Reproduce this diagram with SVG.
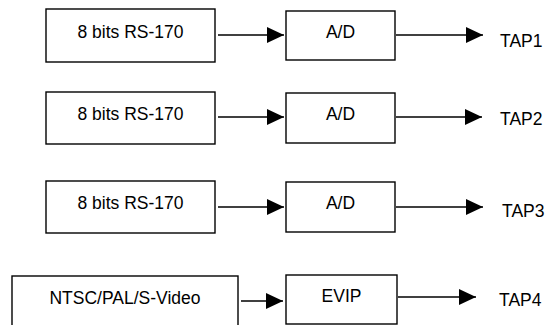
<svg xmlns="http://www.w3.org/2000/svg" width="547" height="325" viewBox="0 0 547 325">
<defs>
<style>
.box{fill:#fff;stroke:#000;stroke-width:1.4}
.lbl{font-family:"Liberation Sans",Arial,sans-serif;font-size:17.5px;fill:#000;text-anchor:middle}
.tap{font-family:"Liberation Sans",Arial,sans-serif;font-size:17.5px;fill:#000}
.con{stroke:#000;stroke-width:1.4;fill:none}
</style>
<marker id="ah" markerWidth="17" markerHeight="16" refX="17" refY="8" orient="auto" markerUnits="userSpaceOnUse">
<path d="M0,0 L17,8 L0,16 Z" fill="#000"/>
</marker>
</defs>
<rect width="547" height="325" fill="#fff"/>
<g id="src1"><rect class="box" x="46" y="9" width="169" height="53"/><text class="lbl" x="130.5" y="38">8 bits RS-170</text></g>
<g id="ad1"><rect class="box" x="286" y="11" width="109" height="49"/><text class="lbl" x="340.5" y="38">A/D</text></g>
<g id="tap1"><text class="tap" x="500" y="47">TAP1</text></g>
<g id="src2"><rect class="box" x="46" y="92" width="169" height="52"/><text class="lbl" x="130.5" y="120">8 bits RS-170</text></g>
<g id="ad2"><rect class="box" x="286" y="93" width="109" height="50"/><text class="lbl" x="340.5" y="120">A/D</text></g>
<g id="tap2"><text class="tap" x="500" y="125">TAP2</text></g>
<g id="src3"><rect class="box" x="46" y="181" width="169" height="52"/><text class="lbl" x="130.5" y="209">8 bits RS-170</text></g>
<g id="ad3"><rect class="box" x="286" y="182" width="109" height="50"/><text class="lbl" x="340.5" y="209">A/D</text></g>
<g id="tap3"><text class="tap" x="502" y="217">TAP3</text></g>
<g id="src4"><rect class="box" x="12" y="276" width="226" height="60"/><text class="lbl" x="125" y="304">NTSC/PAL/S-Video</text></g>
<g id="evip"><rect class="box" x="286" y="275" width="111" height="49"/><text class="lbl" x="341.5" y="302">EVIP</text></g>
<g id="tap4"><text class="tap" x="499" y="306">TAP4</text></g>
<g id="connectors">
<line class="con" x1="218" y1="35" x2="284" y2="35" marker-end="url(#ah)"/>
<line class="con" x1="396" y1="35" x2="483" y2="35" marker-end="url(#ah)"/>
<line class="con" x1="218" y1="117" x2="284" y2="117" marker-end="url(#ah)"/>
<line class="con" x1="396" y1="117" x2="482" y2="117" marker-end="url(#ah)"/>
<line class="con" x1="218" y1="207" x2="284" y2="207" marker-end="url(#ah)"/>
<line class="con" x1="396" y1="207" x2="483" y2="207" marker-end="url(#ah)"/>
<line class="con" x1="241" y1="301" x2="283" y2="301" marker-end="url(#ah)"/>
<line class="con" x1="398" y1="297" x2="476" y2="297" marker-end="url(#ah)"/>
</g>
</svg>
